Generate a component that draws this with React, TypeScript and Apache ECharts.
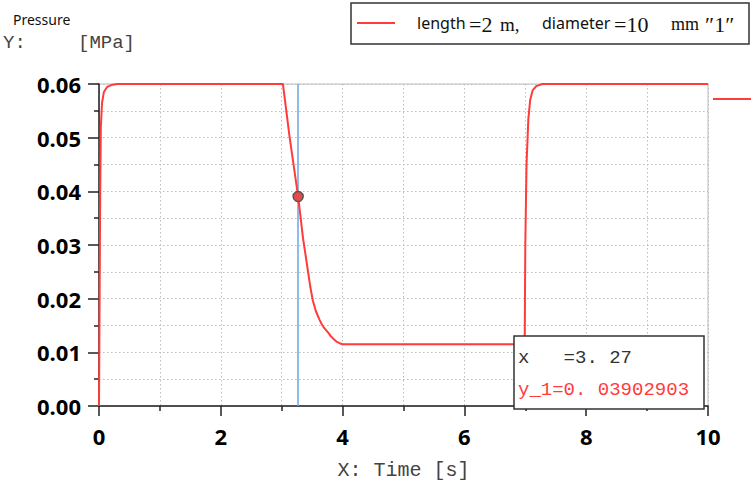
import React, { useEffect, useRef } from "react";
import * as echarts from "echarts";

const timeS = [
  0, 0.02, 0.03, 0.05, 0.08, 0.13, 0.2, 0.3, 3.02, 3.13, 3.27, 3.35, 3.43, 3.47, 3.51,
  3.56, 3.62, 3.66, 3.7, 3.76, 3.8, 3.85, 3.9, 3.95, 4.0, 6.99, 7.0, 7.02, 7.05, 7.08,
  7.12, 7.18, 7.28, 10,
];
const pressureMPa = [
  0, 0.04, 0.052, 0.0565, 0.0585, 0.0594, 0.0598, 0.06, 0.06, 0.0501, 0.03903, 0.0313,
  0.0252, 0.0222, 0.0197, 0.0177, 0.0161, 0.0152, 0.0145, 0.0137, 0.0131, 0.0125,
  0.012, 0.0117, 0.0115, 0.0115, 0.03, 0.045, 0.0535, 0.057, 0.0588, 0.0596, 0.06, 0.06,
];
const cursorX = 3.27;
const cursorY = 0.03902903;
const cursorXLabel = "x   =3. 27";
const cursorYLabel = "y_1=0. 03902903";
const yTickLabels = ["0.00", "0.01", "0.02", "0.03", "0.04", "0.05", "0.06"];
const seriesName = "length =2 m, diameter =10 mm ″1″";

const RED = "#ff3b3b";
const MONO = "'Liberation Mono', 'DejaVu Sans Mono', monospace";
const SERIF = "'Liberation Serif', 'DejaVu Serif', serif";
const SANS = "'Noto Sans', 'Open Sans', sans-serif";
const GRID_DOT = { color: "#bdbdbd", type: [1.5, 2.5], width: 1 };

export default function App() {
  const ref = useRef<HTMLDivElement>(null);
  useEffect(() => {
    if (!ref.current) return;
    const chart = echarts.init(ref.current, null, { renderer: "svg" });
    const data = timeS.map((t, i) => [t, pressureMPa[i]]);
    chart.setOption({
      animation: false,
      backgroundColor: "#ffffff",
      grid: {
        left: 99,
        right: 43,
        top: 84,
        bottom: 72,
        show: true,
        borderColor: "#d4d4d4",
        borderWidth: 1.5,
      },
      xAxis: {
        type: "value",
        min: 0,
        max: 10,
        interval: 2,
        axisLine: { onZero: false, lineStyle: { color: "#222", width: 1.5 } },
        axisTick: { length: 10, lineStyle: { color: "#222", width: 1.5 } },
        minorTick: { show: true, splitNumber: 2, length: 5, lineStyle: { color: "#222", width: 1.5 } },
        splitLine: { show: true, lineStyle: GRID_DOT },
        minorSplitLine: { show: true, lineStyle: GRID_DOT },
        axisLabel: {
          margin: 19,
          fontFamily: "'Open Sans', sans-serif",
          fontWeight: "bold",
          fontSize: 22,
          color: "#000",
        },
        name: "X: Time [s]",
        nameLocation: "middle",
        nameGap: 54,
        nameTextStyle: { fontFamily: MONO, fontSize: 20, color: "#444" },
      },
      yAxis: {
        type: "value",
        min: 0,
        max: 0.06,
        interval: 0.01,
        axisLine: { show: true, lineStyle: { color: "#222", width: 1.5 } },
        axisTick: { show: true, length: 11, lineStyle: { color: "#222", width: 1.5 } },
        minorTick: { show: true, splitNumber: 2, length: 5, lineStyle: { color: "#222", width: 1.5 } },
        splitLine: { show: true, lineStyle: GRID_DOT },
        minorSplitLine: { show: true, lineStyle: GRID_DOT },
        axisLabel: {
          margin: 18,
          fontFamily: "'Open Sans', sans-serif",
          fontWeight: "bold",
          fontSize: 22,
          color: "#000",
          formatter: (v: number) => yTickLabels[Math.round(v / 0.01)] ?? "",
        },
      },
      series: [
        {
          name: seriesName,
          type: "line",
          data,
          showSymbol: false,
          smooth: false,
          lineStyle: { color: RED, width: 2 },
          z: 3,
          markLine: {
            silent: true,
            symbol: ["none", "none"],
            label: { show: false },
            lineStyle: { color: "#6aa6e0", width: 1.5, type: "solid" },
            data: [{ xAxis: cursorX }],
            z: 2,
          },
          markPoint: {
            silent: true,
            symbol: "circle",
            symbolSize: 10,
            label: { show: false },
            itemStyle: { color: "#e84a4a", borderColor: "#555", borderWidth: 1.5 },
            data: [{ coord: [cursorX, cursorY] }],
          },
        },
      ],
      graphic: [
        {
          type: "text",
          left: 13,
          top: 12,
          style: { text: "Pressure", font: `14px ${SANS}`, fill: "#111" },
        },
        {
          type: "text",
          left: 3,
          top: 33,
          style: { text: "Y:", font: `19px ${MONO}`, fill: "#444" },
        },
        {
          type: "text",
          left: 78,
          top: 33,
          style: { text: "[MPa]", font: `19px ${MONO}`, fill: "#444" },
        },
        // legend box
        {
          type: "rect",
          shape: { x: 351, y: 3, width: 398, height: 41 },
          style: { fill: "#fff", stroke: "#333", lineWidth: 1.5 },
          z: 10,
        },
        {
          type: "line",
          shape: { x1: 357, y1: 23, x2: 395, y2: 23 },
          style: { stroke: RED, lineWidth: 2 },
          z: 11,
        },
        {
          type: "text",
          x: 417,
          y: 23,
          style: { text: "length", font: `16px ${SANS}`, fill: "#111", verticalAlign: "middle" },
          z: 11,
        },
        {
          type: "text",
          x: 469,
          y: 24,
          style: { text: "=2", font: `22px ${SERIF}`, fill: "#111", verticalAlign: "middle" },
          z: 11,
        },
        {
          type: "text",
          x: 500,
          y: 24,
          style: { text: "m,", font: `19px ${SERIF}`, fill: "#111", verticalAlign: "middle" },
          z: 11,
        },
        {
          type: "text",
          x: 542,
          y: 23,
          style: { text: "diameter", font: `16px ${SANS}`, fill: "#111", verticalAlign: "middle" },
          z: 11,
        },
        {
          type: "text",
          x: 614,
          y: 24,
          style: { text: "=10", font: `22px ${SERIF}`, fill: "#111", verticalAlign: "middle" },
          z: 11,
        },
        {
          type: "text",
          x: 671,
          y: 24,
          style: { text: "mm", font: `18px ${SERIF}`, fill: "#111", verticalAlign: "middle" },
          z: 11,
        },
        {
          type: "text",
          x: 705,
          y: 24,
          style: { text: "″1″", font: `22px ${SERIF}`, fill: "#111", verticalAlign: "middle" },
          z: 11,
        },
        // stray series line at right edge
        {
          type: "line",
          shape: { x1: 713, y1: 99, x2: 751, y2: 99 },
          style: { stroke: RED, lineWidth: 2 },
        },
        // cursor readout box
        {
          type: "rect",
          shape: { x: 514, y: 336, width: 190, height: 73 },
          style: { fill: "#fff", stroke: "#333", lineWidth: 1.5 },
          z: 10,
        },
        {
          type: "text",
          x: 518,
          y: 358,
          style: { text: cursorXLabel, font: `19px ${MONO}`, fill: "#333", verticalAlign: "middle" },
          z: 11,
        },
        {
          type: "text",
          x: 518,
          y: 390,
          style: { text: cursorYLabel, font: `19px ${MONO}`, fill: RED, verticalAlign: "middle" },
          z: 11,
        },
      ],
    });
    return () => chart.dispose();
  }, []);
  return <div ref={ref} style={{ width: 751, height: 485, position: "absolute", left: 0, top: 0 }} />;
}
